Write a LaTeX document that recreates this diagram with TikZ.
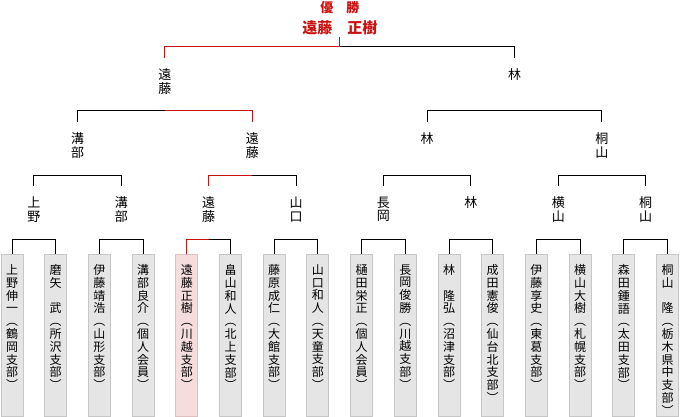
\documentclass[tikz,border=0pt]{standalone}
\usepackage{fontspec}
\setmainfont{Noto Sans CJK JP}
\usepackage{xcolor}
\usetikzlibrary{calc}

\definecolor{winred}{RGB}{204,17,17}
\definecolor{winfill}{RGB}{245,221,221}
\definecolor{windraw}{RGB}{222,192,192}

% one character per line
\def\tatelp#1{\ifx\relax#1\else\hbox to 1em{\hss#1\hss}\expandafter\tatelp\fi}
\newcommand\tate[1]{\vbox{\tatelp#1\relax}}
\newcommand\tatebox[1]{\vbox to 141.5pt{\tatelp#1\relax\vfil}}

\begin{document}
\begin{tikzpicture}[x=1pt,y=-1pt,line width=1pt,
  entry/.style={draw=black!22,fill=black!10,anchor=north,minimum width=22pt,
    inner xsep=0pt,inner ysep=10pt,font=\fontsize{12}{12.8}\selectfont},
  winbox/.style={entry,draw=windraw,fill=winfill},
  nm/.style={anchor=north,inner xsep=0pt,inner ysep=10.5pt,font=\fontsize{13}{13.5}\selectfont},
  champ/.style={text=winred,anchor=south,align=center,inner sep=2pt,
    font=\bfseries\fontsize{15}{21}\selectfont},
  win/.style={draw=winred}]
  \pgfmathsetmacro{\bt}{254}
  \useasboundingbox (0,0) rectangle (680,417);

    \foreach \nm [count=\k] [evaluate=\k as \x using 12+(\k-1)*43.7] in
      {上野伸一︵鶴岡支部︶,磨矢　武︵所沢支部︶,伊藤靖浩︵山形支部︶,溝部良介︵個人会員︶,
       遠藤正樹︵川越支部︶,畠山和人︵北上支部︶,藤原成仁︵大館支部︶,山口和人︵天童支部︶,
       樋田栄正︵個人会員︶,長岡俊勝︵川越支部︶,林　隆弘︵沼津支部︶,成田憲俊︵仙台北支部︶,
       伊藤享史︵東葛支部︶,横山大樹︵札幌支部︶,森田鍾語︵太田支部︶,桐山　隆︵栃木県中支部︶}
    {
      \ifnum\k=5 \tikzset{cur/.style=winbox}\else\tikzset{cur/.style=entry}\fi
      \node[cur] (b\k) at (\x,\bt) {\expandafter\tatebox\expandafter{\nm}};
    }

    \foreach \nm [count=\k] [evaluate=\k as \x using 33.85+87.4*(\k-1)] in
      {上野,溝部,遠藤,山口,長岡,林,横山,桐山}
      \node[nm] (u\k) at (\x,186) {\expandafter\tate\expandafter{\nm}};
    \foreach \nm [count=\k] [evaluate=\k as \x using 77.55+174.8*(\k-1)] in {溝部,遠藤,林,桐山}
      \node[nm] (t\k) at (\x,122) {\expandafter\tate\expandafter{\nm}};
    \foreach \nm [count=\k] [evaluate=\k as \x using 164.95+349.6*(\k-1)] in {遠藤,林}
      \node[nm] (s\k) at (\x,58) {\expandafter\tate\expandafter{\nm}};
    \node[champ] (champ) at (339.75,37) {{\fontsize{13}{21}\selectfont 優　勝}\\遠藤　正樹};

    \foreach \k [evaluate=\k as \a using int(2*\k-1)] [evaluate=\k as \b using int(2*\k)] in {1,...,8}
      \draw (b\a.north) -- ++(0,-14.5) -| (b\b.north);
    \foreach \k [evaluate=\k as \a using int(2*\k-1)] [evaluate=\k as \b using int(2*\k)] in {1,...,4}
      \draw (u\a.north) -- ++(0,-11) -| (u\b.north);
    \foreach \k [evaluate=\k as \a using int(2*\k-1)] [evaluate=\k as \b using int(2*\k)] in {1,2}
      \draw (t\a.north) -- ++(0,-11) -| (t\b.north);
    \draw (s2.north) -- ++(0,-11) -| (champ.south);

    \draw[win] (b5.north) -- ++(0,-14.5) -- ($(u3 |- b5.north)+(0,-14.5)$);
    \draw[win] (u3.north) -- ++(0,-11) -- ($(t2 |- u3.north)+(0,-11)$);
    \draw[win] (t2.north) -- ++(0,-11) -- ($(s1 |- t2.north)+(0,-11)$);
    \draw[win] (s1.north) -- ++(0,-11) -| (champ.south);
\end{tikzpicture}
\end{document}
